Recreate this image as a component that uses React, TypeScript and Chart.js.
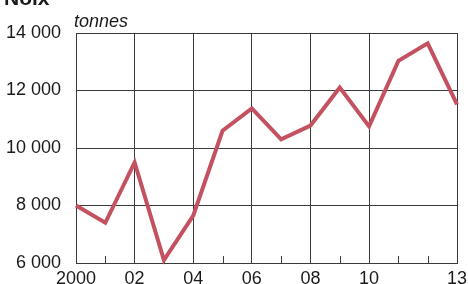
import React, { useEffect, useRef } from "react";
import { Chart, registerables } from "chart.js";

Chart.register(...registerables);

const years = [2000, 2001, 2002, 2003, 2004, 2005, 2006, 2007, 2008, 2009, 2010, 2011, 2012, 2013];
const noix = [8000, 7400, 9500, 6100, 7650, 10600, 11380, 10300, 10780, 12100, 10750, 13030, 13640, 11520];
const labeledYears = [2000, 2002, 2004, 2006, 2008, 2010, 2013];
const gridYears = [2002, 2004, 2006, 2008, 2010, 2013];
const yTicks = [6000, 8000, 10000, 12000, 14000];
const titleText = "Noix";
const unitText = "tonnes";

const FONT = "'Liberation Sans', Arial, sans-serif";
const GRID = "#3a3a3a";

const fmt = (v: number) => String(v).replace(/\B(?=(\d{3})+(?!\d))/g, " ");

export default function App() {
  const ref = useRef<HTMLCanvasElement | null>(null);
  useEffect(() => {
    document.body.style.margin = "0";
    const canvas = ref.current!;
    const extras = {
      id: "extras",
      beforeDatasetsDraw(chart: any) {
        const { ctx, chartArea, scales } = chart;
        ctx.save();
        ctx.strokeStyle = GRID;
        ctx.lineWidth = 1;
        years.forEach((yr) => {
          if (labeledYears.includes(yr)) return;
          const x = Math.round(scales.x.getPixelForValue(yr)) + 0.5;
          ctx.beginPath();
          ctx.moveTo(x, chartArea.bottom);
          ctx.lineTo(x, chartArea.bottom - 7);
          ctx.stroke();
        });
        ctx.restore();
      },
      afterDraw(chart: any) {
        const { ctx, chartArea } = chart;
        ctx.save();
        ctx.fillStyle = "#1a1a1a";
        ctx.textBaseline = "alphabetic";
        ctx.textAlign = "left";
        ctx.font = `bold 21px ${FONT}`;
        ctx.fillText(titleText, 4, 5);
        ctx.font = `italic 18px ${FONT}`;
        ctx.fillText(unitText, chartArea.left - 2, 27);
        ctx.restore();
      },
    };
    const chart = new Chart(canvas, {
      type: "line",
      data: {
        datasets: [
          {
            data: years.map((x, i) => ({ x, y: noix[i] })),
            borderColor: "#c4515f",
            borderWidth: 4,
            pointRadius: 0,
            tension: 0,
            borderJoinStyle: "miter",
            clip: 4,
          },
        ],
      },
      options: {
        animation: false,
        responsive: false,
        maintainAspectRatio: false,
        layout: { padding: { left: 0, right: 11, top: 33, bottom: 0 } },
        plugins: { legend: { display: false }, tooltip: { enabled: false }, title: { display: false } },
        scales: {
          x: {
            type: "linear",
            min: 2000,
            max: 2013,
            afterBuildTicks: (s: any) => {
              s.ticks = years.map((v) => ({ value: v }));
            },
            afterFit: (s: any) => {
              s.height = 21;
              s.paddingLeft = 0;
              s.paddingRight = 0;
              s.paddingTop = 0;
              s.paddingBottom = 0;
            },
            ticks: {
              autoSkip: false,
              maxRotation: 0,
              padding: 5,
              color: "#1a1a1a",
              font: { family: FONT, size: 18 },
              callback: (v: any) => {
                const n = Number(v);
                if (!labeledYears.includes(n)) return "";
                return n === 2000 ? "2000" : String(n).slice(2);
              },
            },
            grid: {
              drawTicks: false,
              color: (c: any) => (c.tick && gridYears.includes(c.tick.value) ? GRID : "transparent"),
              lineWidth: 1,
            },
            border: { display: true, color: GRID, width: 1 },
          },
          y: {
            type: "linear",
            min: 6000,
            max: 14000,
            afterBuildTicks: (s: any) => {
              s.ticks = yTicks.map((v) => ({ value: v }));
            },
            afterFit: (s: any) => {
              s.width = 76;
              s.paddingLeft = 0;
              s.paddingRight = 0;
              s.paddingTop = 0;
              s.paddingBottom = 0;
            },
            ticks: {
              padding: 15,
              color: "#1a1a1a",
              font: { family: FONT, size: 18 },
              callback: (v: any) => fmt(Number(v)),
            },
            grid: { drawTicks: false, color: GRID, lineWidth: 1 },
            border: { display: true, color: GRID, width: 1 },
          },
        },
      },
      plugins: [extras],
    } as any);
    return () => chart.destroy();
  }, []);
  return (
    <div style={{ width: 468, height: 284, background: "#fff" }}>
      <canvas ref={ref} width={468} height={284} style={{ display: "block" }} />
    </div>
  );
}
